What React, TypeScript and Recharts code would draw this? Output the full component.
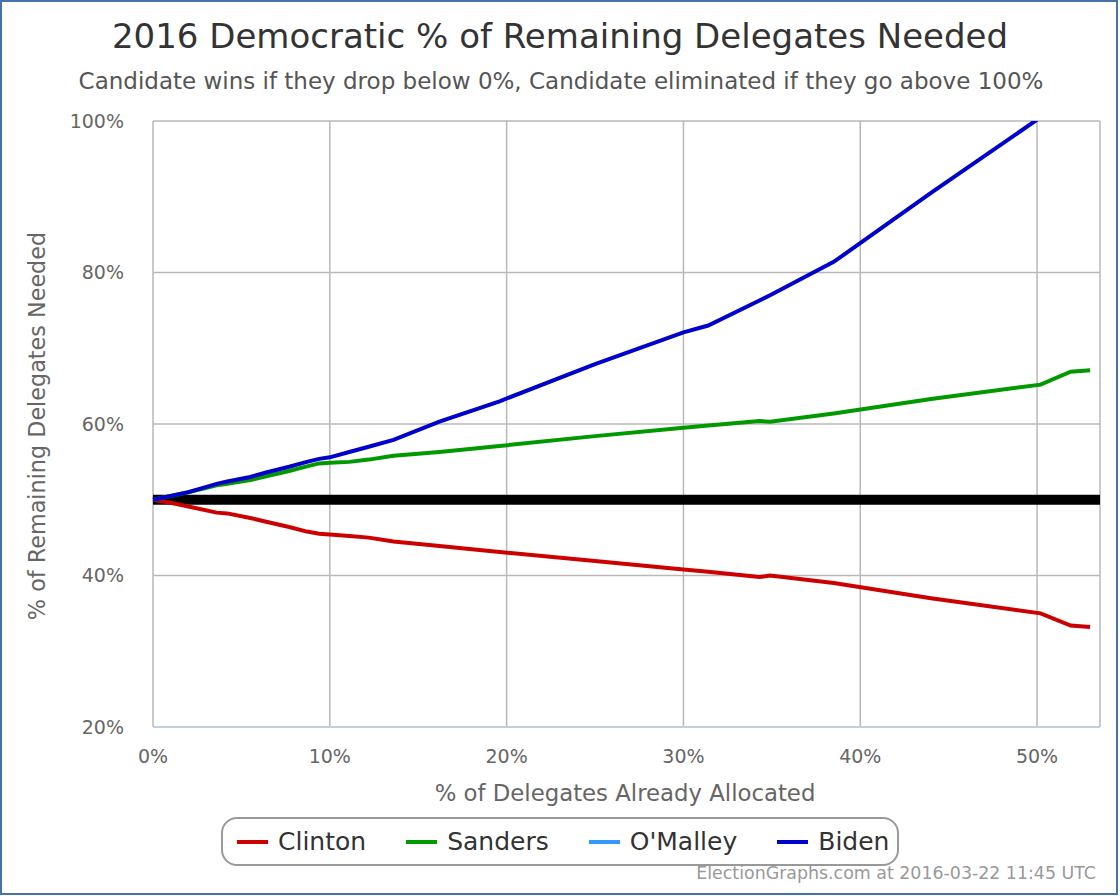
import React from "react";
import {
  LineChart,
  Line,
  XAxis,
  YAxis,
  CartesianGrid,
  ReferenceLine,
  Legend,
} from "recharts";

// % of delegates already allocated at each update
const allocated = [
  0, 1.0, 2.0, 3.6, 4.2, 5.5, 6.4, 7.7, 8.7, 9.4, 10.0, 11.1, 12.2, 13.6,
  16.2, 19.6, 25.0, 30.0, 31.4, 34.3, 34.9, 38.5, 44.0, 50.2, 51.9, 53.0,
];

// % of remaining delegates each candidate needs
const clinton = [
  50.0, 49.6, 49.1, 48.3, 48.2, 47.6, 47.1, 46.4, 45.8, 45.5, 45.4, 45.2, 45.0,
  44.5, 43.9, 43.1, 41.9, 40.8, 40.5, 39.8, 40.0, 39.0, 37.0, 35.0, 33.4, 33.2,
];
const sanders = [
  50.0, 50.5, 51.0, 51.9, 52.1, 52.6, 53.1, 53.8, 54.4, 54.8, 54.9, 55.0, 55.3,
  55.8, 56.3, 57.1, 58.4, 59.5, 59.8, 60.4, 60.3, 61.4, 63.3, 65.2, 66.9, 67.1,
];
const biden = [
  50.0, 50.5, 51.0, 52.1, 52.4, 53.0, 53.6, 54.35, 55.0, 55.4, 55.6, 56.3,
  57.0, 57.9, 60.3, 63.0, 67.9, 72.1, 73.0, 76.3, 77.0, 81.4, 90.5, 100.5,
  null, null,
];

const xTicks = [0, 10, 20, 30, 40, 50];
const yTicks = [20, 40, 60, 80, 100];

const candidates = [
  { key: "clinton", name: "Clinton", color: "#cc0000" },
  { key: "sanders", name: "Sanders", color: "#009900" },
  { key: "omalley", name: "O'Malley", color: "#3399ff" },
  { key: "biden", name: "Biden", color: "#0000cc" },
];

const rows = allocated.map((x, i) => ({
  x,
  clinton: clinton[i],
  sanders: sanders[i],
  biden: biden[i],
}));

const FONT = "'DejaVu Sans', sans-serif";

// boxed legend like the original site
const renderLegend = () => (
  <div
    style={{
      boxSizing: "border-box",
      width: 678,
      height: 49,
      border: "2px solid #999",
      borderRadius: 16,
      display: "flex",
      alignItems: "center",
      paddingLeft: 14,
      gap: 40,
      fontFamily: FONT,
      fontSize: 25,
      color: "#333",
      background: "#fff",
    }}
  >
    {candidates.map((c) => (
      <div key={c.key} style={{ display: "flex", alignItems: "center" }}>
        <span
          style={{
            display: "inline-block",
            width: 31,
            height: 4,
            background: c.color,
            marginRight: 10,
          }}
        />
        {c.name}
      </div>
    ))}
  </div>
);

export default function App() {
  return (
    <div
      style={{
        position: "absolute",
        left: 0,
        top: 0,
        width: 1120,
        height: 896,
        background: "#fff",
      }}
    >
      <LineChart
        width={1120}
        height={896}
        data={rows}
        margin={{ top: 121, right: 20, bottom: 0, left: 0 }}
      >
        <CartesianGrid stroke="#b8b8b8" strokeWidth={1.5} />
        <XAxis
          dataKey="x"
          type="number"
          domain={[0, 53.56]}
          ticks={xTicks}
          tickFormatter={(v) => `${v}%`}
          height={169}
          stroke="#c0d0e0"
          strokeWidth={2}
          tickLine={false}
          tickSize={0}
          tickMargin={23}
          tick={{ fill: "#666", fontSize: 19, fontFamily: FONT }}
        />
        <YAxis
          type="number"
          domain={[20, 100]}
          ticks={yTicks}
          allowDataOverflow
          tickFormatter={(v) => `${v}%`}
          width={153}
          axisLine={false}
          tickLine={false}
          tickSize={0}
          tickMargin={29}
          tick={{ fill: "#666", fontSize: 19, fontFamily: FONT }}
        />
        <ReferenceLine y={50} stroke="#000" strokeWidth={10} />
        {candidates.map((c) => (
          <Line
            key={c.key}
            dataKey={c.key}
            name={c.name}
            stroke={c.color}
            strokeWidth={4}
            dot={false}
            activeDot={false}
            connectNulls={false}
            isAnimationActive={false}
          />
        ))}
        <Legend
          layout="horizontal"
          verticalAlign="middle"
          align="center"
          content={renderLegend}
          wrapperStyle={{ left: 221, top: 817, width: 678, height: 49 }}
        />
      </LineChart>
      <svg
        width={1120}
        height={896}
        style={{ position: "absolute", left: 0, top: 0, pointerEvents: "none" }}
      >
        <text
          x={560}
          y={48}
          textAnchor="middle"
          fontFamily={FONT}
          fontSize={34}
          fill="#333"
        >
          2016 Democratic % of Remaining Delegates Needed
        </text>
        <text
          x={561}
          y={89}
          textAnchor="middle"
          fontFamily={FONT}
          fontSize={23}
          fill="#555"
        >
          Candidate wins if they drop below 0%, Candidate eliminated if they go
          above 100%
        </text>
        <text
          x={625}
          y={801}
          textAnchor="middle"
          fontFamily={FONT}
          fontSize={22.8}
          fill="#666"
        >
          % of Delegates Already Allocated
        </text>
        <text
          transform="translate(45,426) rotate(-90)"
          textAnchor="middle"
          fontFamily={FONT}
          fontSize={22.3}
          fill="#666"
        >
          % of Remaining Delegates Needed
        </text>
        <text
          x={1096}
          y={879}
          textAnchor="end"
          fontFamily={FONT}
          fontSize={17.4}
          fill="#999"
        >
          ElectionGraphs.com at 2016-03-22 11:45 UTC
        </text>
        <rect
          x={1}
          y={1}
          width={1116}
          height={893}
          fill="none"
          stroke="#4572a7"
          strokeWidth={2}
        />
      </svg>
    </div>
  );
}
